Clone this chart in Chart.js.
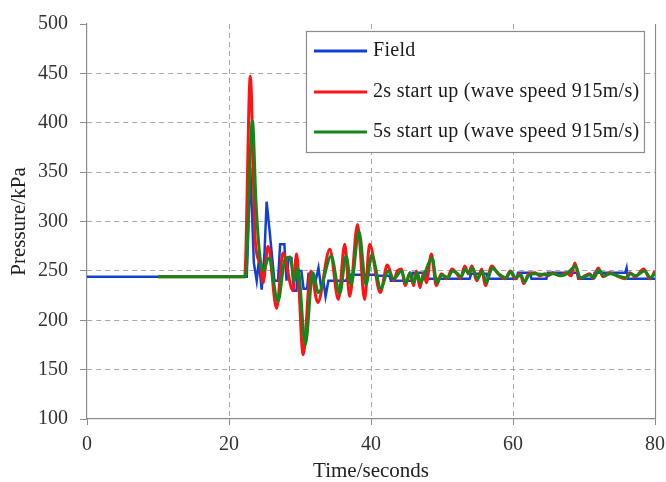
<!DOCTYPE html>
<html><head><meta charset="utf-8">
<script src="https://cdn.jsdelivr.net/npm/chart.js@4.4.0/dist/chart.umd.min.js"></script>
<style>html,body{margin:0;padding:0;background:#fff;}</style>
</head><body>
<canvas id="c" width="666" height="482"></canvas>
<script>
const seriesLabels = ['Field', '2s start up (wave speed 915m/s)', '5s start up (wave speed 915m/s)'];
const xTitle = 'Time/seconds';
const yTitle = 'Pressure/kPa';
const xTicks = [0, 20, 40, 60, 80];
const yTicks = [100, 150, 200, 250, 300, 350, 400, 450, 500];

const fieldTime = [0,22.5,23.0,23.5,23.9,24.2,24.6,25.0,25.3,25.7,26.1,26.4,26.9,27.2,27.8,28.1,28.4,28.8,29.1,29.5,29.7,30.2,30.5,31.0,31.2,31.6,31.8,32.2,32.6,33.0,33.3,33.6,34.0,36.5,36.8,40.5,40.8,42.6,42.8,45.7,45.9,47.8,48.0,53.9,54.1,56.3,56.5,60.5,60.7,62.4,62.6,64.7,64.9,69.0,69.2,71.3,71.5,75.8,76.0,76.2,80];
const fieldPressure = [244,244,355,258,240,260,231,268,320,292,262,240,240,277,277,240,263,263,230,230,250,250,232,232,247,247,240,240,253,232,240,224,240,240,246,246,245,245,240,240,248,248,242,242,247,247,242,242,248,248,242,242,248,248,242,242,248,248,253,242,242];

const redTime = [10,22.2,23.0,23.7,24.4,24.8,25.5,26.7,27.6,29.0,29.5,30.45,31.5,32.5,34.2,35.4,36.3,37.0,38.1,39.1,39.8,41.3,42.3,43.2,43.7,44.3,44.8,45.5,46.0,46.4,46.9,47.4,47.8,48.5,49.2,49.9,50.7,51.4,52.1,52.6,53.2,53.7,54.2,54.9,55.6,56.1,57.0,57.9,58.9,59.6,60.3,61.0,61.5,62.2,63.1,63.8,64.5,64.9,65.6,66.6,67.5,68.2,68.7,69.4,70.1,70.8,71.3,72.0,72.7,73.6,74.6,75.8,76.5,77.2,78.4,79.3,80.0];
const redPressure = [244,244,447,280,257,238,275,212,268,230,267,165,250,218,272,221,277,224,297,221,277,228,256,240,250,252,235,248,235,250,233,248,238,267,235,247,242,252,247,242,255,247,255,240,252,235,255,247,242,250,242,247,237,247,248,245,247,245,248,245,248,245,258,242,245,247,242,253,244,248,245,242,248,244,252,242,250];

const greenTime = [10,22.3,23.3,23.8,24.3,24.8,25.6,26.9,27.9,28.6,29.2,29.7,30.75,31.8,32.6,34.4,35.6,36.5,37.2,38.3,39.3,40.1,41.4,42.4,43.2,44.3,44.9,45.5,46.0,46.5,47.0,47.5,48.6,49.3,50.0,50.8,51.5,52.2,52.7,53.3,53.8,54.3,55.0,55.7,56.2,57.1,58.0,59.0,59.7,60.4,61.1,61.6,62.3,63.2,64.6,65.7,66.7,67.6,68.8,69.5,70.9,71.4,72.1,72.8,73.7,74.7,75.9,76.6,77.3,78.5,79.4,80.0];
const greenPressure = [244,244,402,320,268,250,263,219,262,264,240,253,175,248,228,265,227,265,236,290,236,266,232,250,242,250,238,248,238,248,238,246,263,238,246,243,250,247,244,252,247,253,242,250,238,253,247,243,249,243,246,239,246,247,246,247,245,247,255,243,246,243,251,245,247,245,243,247,245,250,243,248];

const seriesColors = ['#1340d4', '#ff1414', '#17861a'];
const FONT = '"Liberation Serif", "Times New Roman", serif';

function pts(xs, ys) { return xs.map((x, i) => ({x: x, y: ys[i]})); }

const frameColor = '#8c8c8c';
const gridColor = '#a8a8a8';

const frameAndLegend = {
  id: 'frameAndLegend',
  beforeDatasetsDraw(chart) {
    const {ctx, chartArea} = chart;
    ctx.save();
    ctx.strokeStyle = frameColor;
    ctx.lineWidth = 1.2;
    ctx.beginPath();
    ctx.moveTo(Math.round(chartArea.right) + 0.5, chartArea.top);
    ctx.lineTo(Math.round(chartArea.right) + 0.5, chartArea.bottom);
    ctx.stroke();
    ctx.restore();
  },
  afterDraw(chart) {
    const {ctx, chartArea} = chart;
    const ds = chart.data.datasets;
    ctx.save();
    ctx.font = '20px ' + FONT;
    try { ctx.letterSpacing = '0.3px'; } catch (e) {}
    const textW = Math.max(...ds.map(d => ctx.measureText(d.label).width));
    const boxW = Math.round(67 + textW + 5);
    const boxH = 121;
    const right = Math.round(chartArea.right - 11);
    const left = right - boxW;
    const top = Math.round(chartArea.top + 7);
    ctx.fillStyle = '#fff';
    ctx.fillRect(left, top, boxW, boxH);
    ctx.strokeStyle = frameColor;
    ctx.lineWidth = 1.2;
    ctx.strokeRect(left + 0.5, top + 0.5, boxW, boxH);
    const rows = [20, 61, 101];
    ds.forEach((d, i) => {
      const y = top + rows[i];
      ctx.strokeStyle = d.borderColor;
      ctx.lineWidth = 3;
      ctx.beginPath();
      ctx.moveTo(left + 8, y);
      ctx.lineTo(left + 61, y);
      ctx.stroke();
      ctx.fillStyle = '#1a1a1a';
      ctx.textAlign = 'left';
      ctx.textBaseline = 'middle';
      ctx.fillText(d.label, left + 67, y);
    });
    ctx.restore();
  }
};

new Chart(document.getElementById('c'), {
  type: 'line',
  data: {
    datasets: [
      {label: seriesLabels[0], data: pts(fieldTime, fieldPressure), borderColor: seriesColors[0], borderWidth: 2.5, pointRadius: 0, tension: 0, order: 3},
      {label: seriesLabels[1], data: pts(redTime, redPressure), borderColor: seriesColors[1], borderWidth: 3, pointRadius: 0, cubicInterpolationMode: 'monotone', order: 2},
      {label: seriesLabels[2], data: pts(greenTime, greenPressure), borderColor: seriesColors[2], borderWidth: 3, pointRadius: 0, cubicInterpolationMode: 'monotone', order: 1}
    ]
  },
  options: {
    responsive: false,
    animation: false,
    devicePixelRatio: 1,
    layout: {padding: {top: 22, right: 11, left: 0, bottom: 0}},
    plugins: {legend: {display: false}, tooltip: {enabled: false}},
    scales: {
      x: {
        type: 'linear', min: xTicks[0], max: xTicks[xTicks.length - 1],
        afterBuildTicks: s => { s.ticks = xTicks.map(v => ({value: v})); },
        ticks: {font: {family: FONT, size: 20}, color: '#333', padding: 8, maxRotation: 0, autoSkip: false},
        grid: {
          color: c => (c.tick && (c.tick.value === 80 || c.tick.value === 0)) ? 'rgba(0,0,0,0)' : gridColor,
          lineWidth: 1, tickColor: frameColor, tickLength: 6, tickBorderDash: []
        },
        border: {display: true, color: frameColor, width: 1.2, dash: [5, 4]},
        title: {display: true, text: xTitle, font: {family: FONT, size: 21, lineHeight: 1.0}, color: '#222', padding: {top: 0, bottom: 0}},
        afterFit: s => { s.height = 63; s.paddingRight = 0; s.paddingLeft = 0; }
      },
      y: {
        type: 'linear', min: yTicks[0], max: yTicks[yTicks.length - 1],
        afterBuildTicks: s => { s.ticks = yTicks.map(v => ({value: v})); },
        ticks: {font: {family: FONT, size: 20}, color: '#333', padding: 12, autoSkip: false},
        grid: {
          color: c => (c.tick && (c.tick.value === 500 || c.tick.value === 100)) ? 'rgba(0,0,0,0)' : gridColor,
          lineWidth: 1, tickColor: frameColor, tickLength: 7, tickBorderDash: []
        },
        border: {display: true, color: frameColor, width: 1.2, dash: [5, 4]},
        title: {display: true, text: yTitle, font: {family: FONT, size: 21}, color: '#222', padding: {top: 7, bottom: 0}},
        afterFit: s => { s.width = 87; }
      }
    }
  },
  plugins: [frameAndLegend]
});
</script>
</body></html>
